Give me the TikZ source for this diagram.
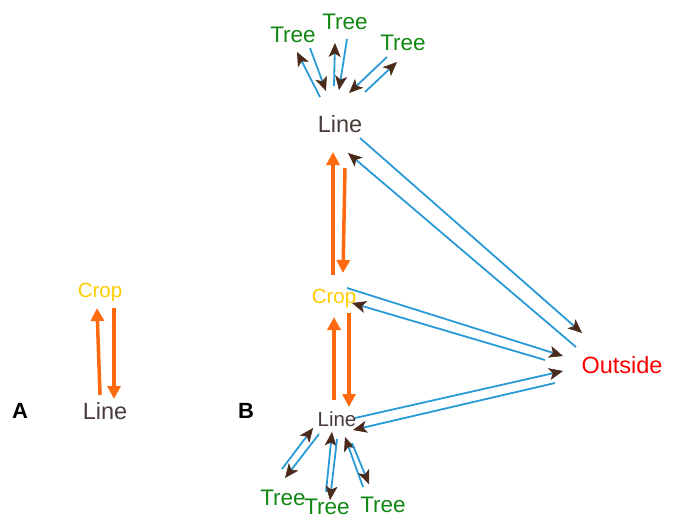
\documentclass[tikz,border=0pt]{standalone}
\usepackage{fontspec}
\setmainfont{Liberation Sans}
\usetikzlibrary{arrows.meta}
\definecolor{linecol}{HTML}{4A3A3A}
\definecolor{cropcol}{HTML}{FFCC00}
\definecolor{treecol}{HTML}{118811}
\definecolor{outcol}{HTML}{FF0000}
\definecolor{bluecol}{HTML}{2A9AD6}
\definecolor{headcol}{HTML}{4A2A1A}
\definecolor{orangecol}{HTML}{FF6A10}
\tikzset{
  lbl/.style={inner sep=0pt, anchor=center},
  linelbl/.style={lbl, text=linecol, font=\fontsize{23.5}{25}\selectfont},
  smalllinelbl/.style={lbl, text=linecol, font=\fontsize{20.5}{22}\selectfont},
  croplbl/.style={lbl, text=cropcol, font=\fontsize{20.5}{22}\selectfont},
  treelbl/.style={lbl, text=treecol, font=\fontsize{22.5}{24}\selectfont},
  outlbl/.style={lbl, text=outcol, font=\fontsize{23.5}{25}\selectfont},
  panellbl/.style={lbl, text=black, font=\bfseries\fontsize{22}{24}\selectfont},
  bluearr/.style={draw=bluecol, line width=1.8pt, -{Stealth[length=14pt, width=12pt, inset=3.5pt, line width=0.6pt, color=headcol, fill=headcol]}},
  orangearr/.style={draw=orangecol, line width=3.5pt, -{Triangle[length=13pt, width=13pt, color=orangecol]}}
}
\begin{document}
\begin{tikzpicture}[x=1pt, y=-1pt]
\useasboundingbox (0,0) rectangle (677,520);
% panel labels
\node[panellbl] (labA) at (20,411) {A};
\node[panellbl] (labB) at (246,411) {B};
% panel A
\node[croplbl] (cropA) at (100,292) {Crop};
\node[linelbl] (lineA) at (105,411) {Line};
% panel B
\node[linelbl] (lineT) at (340,124) {Line};
\node[croplbl] (cropB) at (334,298) {Crop};
\node[smalllinelbl] (lineB) at (337,419) {Line};
\node[outlbl] (outside) at (622,365) {Outside};
\node[treelbl] (treeT1) at (293,35) {Tree};
\node[treelbl] (treeT2) at (345,22) {Tree};
\node[treelbl] (treeT3) at (403,43) {Tree};
\node[treelbl] (treeB1) at (283,498) {Tree};
\node[treelbl] (treeB2) at (327,507) {Tree};
\node[treelbl] (treeB3) at (383,505) {Tree};
% panel A arrows
\draw[orangearr] ([shift={(-5,-16)}]lineA.center) -- ([shift={(-3,16)}]cropA.center);
\draw[orangearr] ([shift={(14,16)}]cropA.center) -- ([shift={(9,-12)}]lineA.center);
% panel B orange arrows
\draw[orangearr] ([shift={(-1,-23)}]cropB.center) -- ([shift={(-7,28)}]lineT.center);
\draw[orangearr] ([shift={(5,44)}]lineT.center) -- ([shift={(9,-25)}]cropB.center);
\draw[orangearr] ([shift={(-3,-19)}]lineB.center) -- ([shift={(0,19)}]cropB.center);
\draw[orangearr] ([shift={(15,15)}]cropB.center) -- ([shift={(12,-12)}]lineB.center);
% panel B blue arrows to/from outside
\draw[bluearr] ([shift={(20,14)}]lineT.center) -- ([shift={(-40,-32)}]outside.center);
\draw[bluearr] ([shift={(-46,-18)}]outside.center) -- ([shift={(8,29)}]lineT.center);
\draw[bluearr] ([shift={(13,-10)}]cropB.center) -- ([shift={(-59,-9)}]outside.center);
\draw[bluearr] ([shift={(-77,-5)}]outside.center) -- ([shift={(18,5)}]cropB.center);
\draw[bluearr] ([shift={(18,-1)}]lineB.center) -- ([shift={(-59,6)}]outside.center);
\draw[bluearr] ([shift={(-67,18)}]outside.center) -- ([shift={(16,11)}]lineB.center);
% top trees
\draw[bluearr] ([shift={(-20,-27)}]lineT.center) -- ([shift={(4,17)}]treeT1.center);
\draw[bluearr] ([shift={(17,13)}]treeT1.center) -- ([shift={(-14,-33)}]lineT.center);
\draw[bluearr] ([shift={(-6,-38)}]lineT.center) -- ([shift={(-10,21)}]treeT2.center);
\draw[bluearr] ([shift={(2,17)}]treeT2.center) -- ([shift={(-1,-34)}]lineT.center);
\draw[bluearr] ([shift={(-16,14)}]treeT3.center) -- ([shift={(9,-31)}]lineT.center);
\draw[bluearr] ([shift={(25,-32)}]lineT.center) -- ([shift={(-6,19)}]treeT3.center);
% bottom trees
\draw[bluearr] ([shift={(-1,-29)}]treeB1.center) -- ([shift={(-24,9)}]lineB.center);
\draw[bluearr] ([shift={(-18,15)}]lineB.center) -- ([shift={(2,-20)}]treeB1.center);
\draw[bluearr] ([shift={(-1,-15)}]treeB2.center) -- ([shift={(-5,13)}]lineB.center);
\draw[bluearr] ([shift={(0,20)}]lineB.center) -- ([shift={(3,-7)}]treeB2.center);
\draw[bluearr] ([shift={(-20,-18)}]treeB3.center) -- ([shift={(8,18)}]lineB.center);
\draw[bluearr] ([shift={(15,24)}]lineB.center) -- ([shift={(-14,-21)}]treeB3.center);
\end{tikzpicture}
\end{document}
